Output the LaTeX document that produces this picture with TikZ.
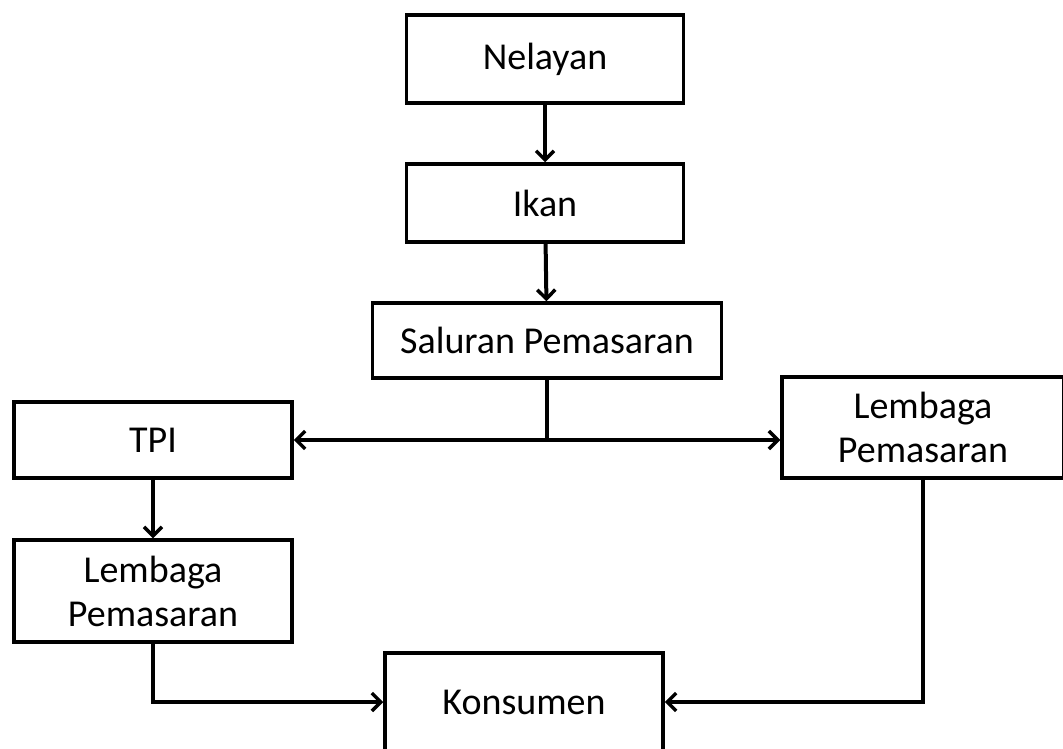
\documentclass[tikz,border=0pt]{standalone}
\usepackage{fontspec}
\setmainfont{Carlito}
\usetikzlibrary{arrows.meta,positioning}

\begin{document}
\begin{tikzpicture}[x=1pt,y=-1pt,
  box/.style={draw, line width=3.5pt, align=center, inner sep=1pt},
  arr/.style={-{Straight Barb[length=9pt,width=18pt,line width=3.5pt]}, line width=4pt},
  link/.style={line width=4pt},
  font=\fontsize{38}{44}\selectfont]

\clip (0,0) rectangle (1063,749);
\fill[white] (0,0) rectangle (1063,749);

\node[box, minimum width=277pt, minimum height=88pt] (nelayan) at (545,59) {Nelayan};
\node[box, minimum width=277pt, minimum height=78pt] (ikan) at (545,203) {Ikan};
\node[box, minimum width=349pt, minimum height=75pt] (saluran) at (547,340.5) {Saluran Pemasaran};
\node[box, minimum width=278pt, minimum height=76pt] (tpi) at (153,440) {TPI};
\node[box, minimum width=278pt, minimum height=102pt] (lembagaL) at (153,591) {Lembaga\\Pemasaran};
\node[box, minimum width=282pt, minimum height=101pt] (lembagaR) at (923,427.5) {Lembaga\\Pemasaran};
\node[box, minimum width=278pt, minimum height=98pt] (konsumen) at (524,702) {Konsumen};
\coordinate (split) at (saluran.south |- tpi.east);

\draw[arr] (nelayan) -- (ikan);
\draw[arr] (ikan) -- (saluran);
\draw[link] (saluran.south) -- (split);
\draw[arr] (split) -- (tpi.east);
\draw[arr] (split) -- (split -| lembagaR.west);
\draw[arr] (tpi) -- (lembagaL);
\draw[arr] (lembagaL.south) |- (konsumen.west);
\draw[arr] (lembagaR.south) |- (konsumen.east);
\end{tikzpicture}
\end{document}
